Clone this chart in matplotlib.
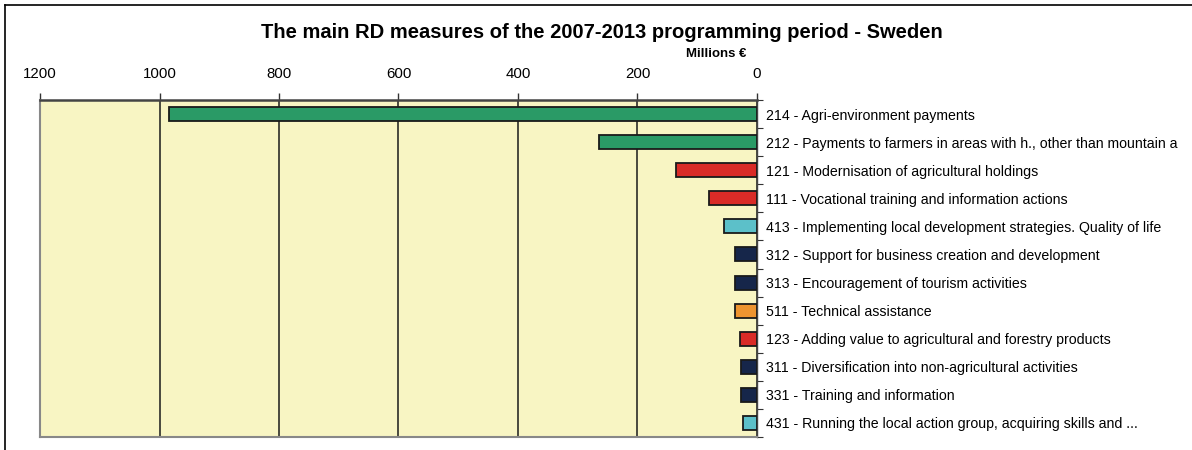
import matplotlib.pyplot as plt
import numpy as np

plt.rcParams['font.family'] = ['Liberation Sans', 'DejaVu Sans']

measures = [
    "214 - Agri-environment payments",
    "212 - Payments to farmers in areas with h., other than mountain a",
    "121 - Modernisation of agricultural holdings",
    "111 - Vocational training and information actions",
    "413 - Implementing local development strategies. Quality of life",
    "312 - Support for business creation and development",
    "313 - Encouragement of tourism activities",
    "511 - Technical assistance",
    "123 - Adding value to agricultural and forestry products",
    "311 - Diversification into non-agricultural activities",
    "331 - Training and information",
    "431 - Running the local action group, acquiring skills and ...",
]
amounts = [984, 265, 136, 81, 56, 36, 36, 36, 29, 27, 27, 23]
axis_groups = ["2", "2", "1", "1", "4", "3", "3", "5", "1", "3", "3", "4"]
group_colors = {
    "1": "#d92b27",
    "2": "#2a9a66",
    "3": "#16264a",
    "4": "#5cc0c9",
    "5": "#ee9430",
}
xticks = [1200, 1000, 800, 600, 400, 200, 0]

fig = plt.figure(figsize=(11.92, 4.5), dpi=100)
ax = fig.add_axes([40 / 1192, 1 - 437 / 450, 717 / 1192, 337 / 450])
ax.set_facecolor("#f8f5c3")

y = np.arange(len(measures))
colors = [group_colors[g] for g in axis_groups]
ax.barh(y, amounts, height=0.5, color=colors, edgecolor="#1a1a1a", linewidth=1.3, zorder=3)

ax.set_xlim(1200, 0)
ax.set_ylim(len(measures) - 0.5, -0.5)

ax.xaxis.tick_top()
ax.set_xticks(xticks)
ax.set_xticklabels([str(t) for t in xticks], fontsize=10.8)
ax.tick_params(axis="x", direction="out", length=5, width=1, pad=9, colors="#333333", labelcolor="black")
ax.grid(axis="x", color="#1a1a1a", linewidth=1.1, zorder=1)

ax.yaxis.tick_right()
ax.set_yticks(y)
ax.set_yticklabels(measures, fontsize=10.2)
ax.tick_params(axis="y", which="major", length=0, pad=6.5)
ax.set_yticks(np.arange(len(measures) + 1) - 0.5, minor=True)
ax.tick_params(axis="y", which="minor", direction="out", length=4, width=0.8, colors="#333333")

for side in ["left", "bottom"]:
    ax.spines[side].set_color("#888888")
    ax.spines[side].set_linewidth(1.5)
ax.spines["top"].set_color("#444444")
ax.spines["top"].set_linewidth(1.8)
ax.spines["right"].set_color("#444444")
ax.spines["right"].set_linewidth(1.0)

fig.text(602 / 1192, 1 - 32 / 450, "The main RD measures of the 2007-2013 programming period - Sweden",
         ha="center", va="center", fontsize=14.5, fontweight="bold")
fig.text(716 / 1192, 1 - 54 / 450, "Millions €", ha="center", va="center",
         fontsize=9.5, fontweight="bold")

# frame lines of the original figure box
fig.add_artist(plt.Line2D([5 / 1192, 1], [1 - 5 / 450, 1 - 5 / 450], color="black", linewidth=1.2))
fig.add_artist(plt.Line2D([5 / 1192, 5 / 1192], [0, 1 - 5 / 450], color="black", linewidth=1.2))

plt.savefig("out.png", dpi=100)
